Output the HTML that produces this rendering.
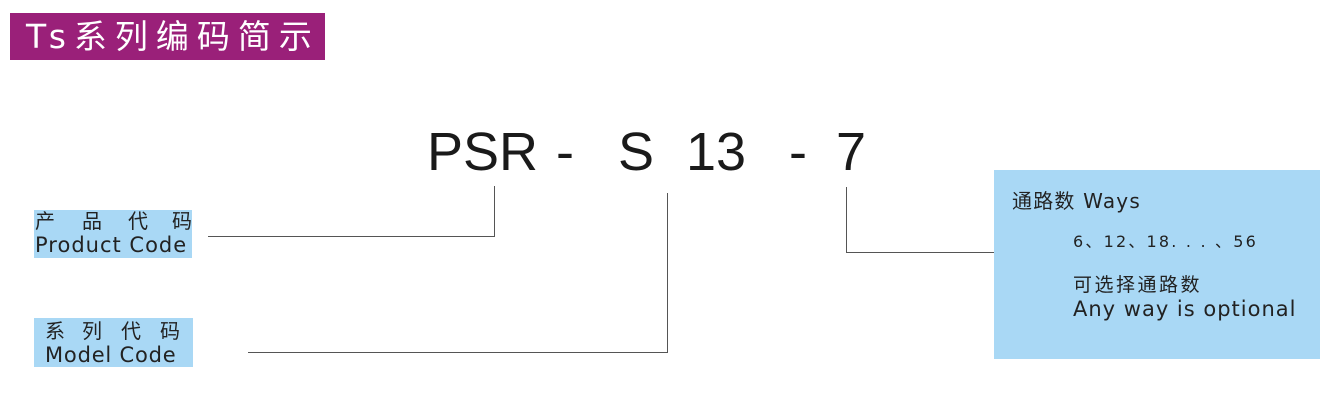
<!DOCTYPE html>
<html><head><meta charset="utf-8"><style>
body{margin:0;width:1332px;height:406px;background:#fff;position:relative;overflow:hidden;font-family:"DejaVu Sans","Noto Sans CJK SC",sans-serif}
.a{position:absolute;white-space:nowrap}
.big{font-family:"Liberation Sans",sans-serif;font-size:54px;color:#1a1a1a;top:122px;line-height:60px}
.l{position:absolute;background:#555}
.c{position:absolute;font-size:20px;line-height:24px;color:#222;font-family:"Noto Sans CJK SC",sans-serif}
</style></head><body>
<div class="a" style="left:10px;top:13px;width:315px;height:47px;background:#9a2079"></div>
<div class="a" style="left:26px;top:14px;color:#fff;font-size:33px;line-height:46px;letter-spacing:8px;font-family:'DejaVu Sans','Noto Sans CJK SC',sans-serif">Ts系列编码简示</div>

<div class="a big" style="left:427px">PSR</div>
<div class="a big" style="left:556px">-</div>
<div class="a big" style="left:618px">S</div>
<div class="a big" style="left:686px">13</div>
<div class="a big" style="left:789px">-</div>
<div class="a big" style="left:836px">7</div>

<div class="a" style="left:34px;top:210px;width:158px;height:48px;background:#a9d8f5"></div>
<div class="c" style="left:35px;top:208px">产</div>
<div class="c" style="left:82px;top:208px">品</div>
<div class="c" style="left:128px;top:208px">代</div>
<div class="c" style="left:172px;top:208px">码</div>
<div class="a" style="left:35px;top:232px;font-size:21px;line-height:26px;color:#222;letter-spacing:1px">Product Code</div>

<div class="a" style="left:34px;top:318px;width:159px;height:49px;background:#a9d8f5"></div>
<div class="c" style="left:45px;top:318px">系</div>
<div class="c" style="left:82px;top:318px">列</div>
<div class="c" style="left:121px;top:318px">代</div>
<div class="c" style="left:160px;top:318px">码</div>
<div class="a" style="left:45px;top:342px;font-size:21px;line-height:26px;color:#222;letter-spacing:0.8px">Model Code</div>

<div class="l" style="left:208px;top:236px;width:287px;height:1px"></div>
<div class="l" style="left:494px;top:186px;width:1px;height:51px"></div>
<div class="l" style="left:248px;top:352px;width:420px;height:1px"></div>
<div class="l" style="left:667px;top:193px;width:1px;height:160px"></div>
<div class="l" style="left:846px;top:187px;width:1px;height:66px"></div>
<div class="l" style="left:846px;top:252px;width:148px;height:1px"></div>

<div class="a" style="left:994px;top:170px;width:326px;height:189px;background:#a9d8f5"></div>
<div class="a" style="left:1012px;top:189px;font-size:20px;line-height:24px;color:#222;letter-spacing:1.2px">通路数 Ways</div>
<div class="a" style="left:1073px;top:232px;font-size:16px;line-height:20px;color:#222;letter-spacing:2.2px">6、12、18. . . 、56</div>
<div class="a" style="left:1073px;top:273px;font-size:19px;line-height:24px;color:#222;letter-spacing:2.5px">可选择通路数</div>
<div class="a" style="left:1073px;top:296px;font-size:21px;line-height:26px;color:#222;letter-spacing:1px">Any way is optional</div>
</body></html>
